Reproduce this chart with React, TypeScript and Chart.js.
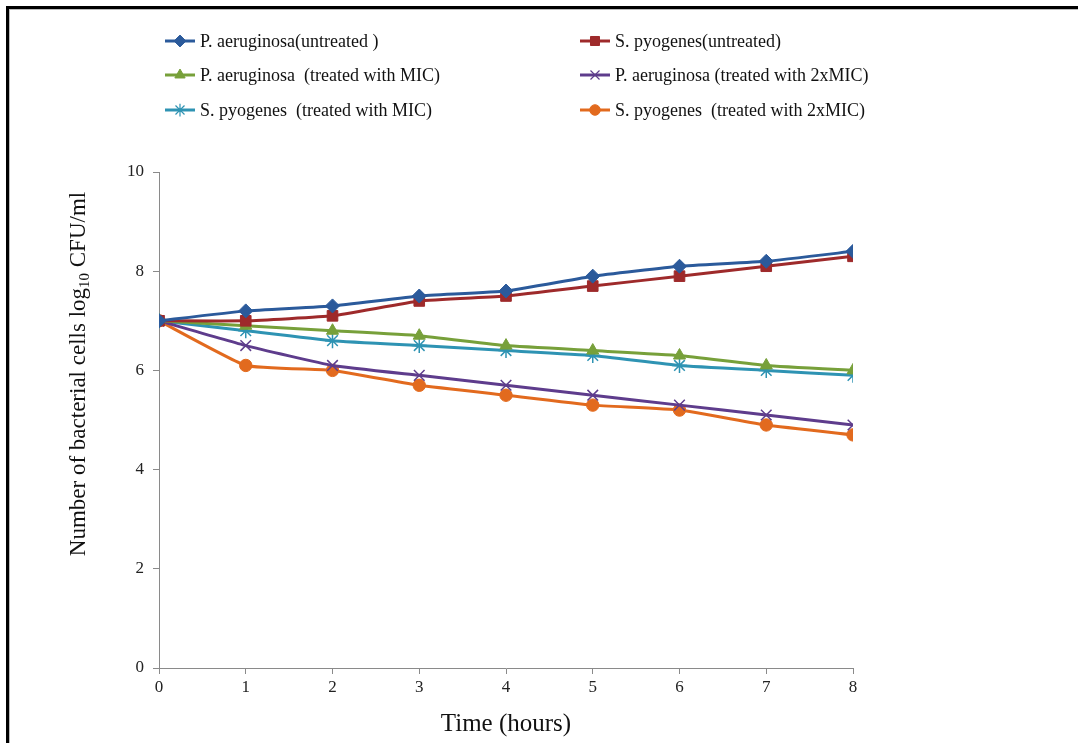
import React, { useEffect, useRef } from "react";
import { Chart, registerables } from "chart.js";
import { drawPoint } from "chart.js/helpers";

Chart.register(...registerables);

const hours = [0, 1, 2, 3, 4, 5, 6, 7, 8];
const paUntreated = [7.0, 7.2, 7.3, 7.5, 7.6, 7.9, 8.1, 8.2, 8.4];
const spUntreated = [7.0, 7.0, 7.1, 7.4, 7.5, 7.7, 7.9, 8.1, 8.3];
const paMIC = [7.0, 6.9, 6.8, 6.7, 6.5, 6.4, 6.3, 6.1, 6.0];
const pa2xMIC = [7.0, 6.5, 6.1, 5.9, 5.7, 5.5, 5.3, 5.1, 4.9];
const spMIC = [7.0, 6.8, 6.6, 6.5, 6.4, 6.3, 6.1, 6.0, 5.9];
const sp2xMIC = [7.0, 6.1, 6.0, 5.7, 5.5, 5.3, 5.2, 4.9, 4.7];

const seriesLabels = [
  "P. aeruginosa(untreated )",
  "S. pyogenes(untreated)",
  "P. aeruginosa  (treated with MIC)",
  "P. aeruginosa (treated with 2xMIC)",
  "S. pyogenes  (treated with MIC)",
  "S. pyogenes  (treated with 2xMIC)",
];
const seriesValues = [paUntreated, spUntreated, paMIC, pa2xMIC, spMIC, sp2xMIC];
const seriesColors = ["#2B5A9B", "#9E2A2B", "#77A03A", "#5E3C8C", "#2E93B3", "#E26A1E"];
const seriesStyles = ["rectRot", "rect", "triangle", "crossRot", "star", "circle"];
const seriesRadius = [7, 7.5, 7, 7.5, 7.5, 6.2];

const xTitle = "Time (hours)";
const yTitleParts = ["Number of bacterial cells log", "10", " CFU/ml"];

const FONT = "'Liberation Serif', 'Times New Roman', serif";

const overlayPlugin = {
  id: "overlay",
  afterDraw(chart: any) {
    const ctx = chart.ctx;
    ctx.save();
    // Legend
    const colX = [165, 580];
    const rowY = [41, 75, 110];
    chart.data.datasets.forEach((ds: any, i: number) => {
      const cx = colX[i % 2];
      const cy = rowY[Math.floor(i / 2)];
      ctx.strokeStyle = ds.borderColor;
      ctx.lineWidth = 3;
      ctx.beginPath();
      ctx.moveTo(cx, cy);
      ctx.lineTo(cx + 30, cy);
      ctx.stroke();
      ctx.fillStyle = ds.pointBackgroundColor;
      ctx.strokeStyle = ds.pointBorderColor;
      ctx.lineWidth = ds.pointStyle === "crossRot" || ds.pointStyle === "star" ? 1.2 : 1;
      drawPoint(ctx, { pointStyle: ds.pointStyle, radius: ds.pointRadius * 0.85, borderWidth: 1, rotation: 0 } as any, cx + 15, cy);
      ctx.fillStyle = "#111";
      ctx.font = `18px ${FONT}`;
      ctx.textBaseline = "middle";
      ctx.textAlign = "left";
      ctx.fillText(ds.label, cx + 35, cy + 1);
    });
    // Y title with subscript
    ctx.translate(79, 374);
    ctx.rotate(-Math.PI / 2);
    const big = `23px ${FONT}`;
    const small = `15px ${FONT}`;
    ctx.font = big;
    const w0 = ctx.measureText(yTitleParts[0]).width;
    const w2 = ctx.measureText(yTitleParts[2]).width;
    ctx.font = small;
    const w1 = ctx.measureText(yTitleParts[1]).width;
    let x = -(w0 + w1 + w2) / 2;
    ctx.fillStyle = "#111";
    ctx.textBaseline = "middle";
    ctx.textAlign = "left";
    ctx.font = big;
    ctx.fillText(yTitleParts[0], x, 0);
    x += w0;
    ctx.font = small;
    ctx.fillText(yTitleParts[1], x, 6);
    x += w1;
    ctx.font = big;
    ctx.fillText(yTitleParts[2], x, 0);
    ctx.restore();
  },
};

export default function App() {
  const ref = useRef<HTMLCanvasElement | null>(null);
  useEffect(() => {
    if (!ref.current) return;
    const datasets = seriesValues.map((vals, i) => ({
      label: seriesLabels[i],
      data: hours.map((h, j) => ({ x: h, y: vals[j] })),
      borderColor: seriesColors[i],
      backgroundColor: seriesColors[i],
      pointBackgroundColor: seriesColors[i],
      pointBorderColor: seriesColors[i],
      pointStyle: seriesStyles[i],
      pointRadius: seriesRadius[i],
      pointBorderWidth: seriesStyles[i] === "crossRot" || seriesStyles[i] === "star" ? 1.5 : 1,
      borderWidth: 3,
      tension: 0.12,
    }));
    const chart = new Chart(ref.current, {
      type: "line",
      data: { datasets },
      plugins: [overlayPlugin],
      options: {
        animation: false,
        responsive: false,
        events: [],
        layout: { padding: { left: 0, right: 225, top: 172, bottom: 0 } },
        plugins: { legend: { display: false }, tooltip: { enabled: false }, title: { display: false } },
        scales: {
          x: {
            type: "linear",
            min: 0,
            max: 8,
            afterFit: (s: any) => { s.height = 75; },
            ticks: { stepSize: 1, color: "#222", font: { family: FONT, size: 17 }, padding: 3, maxRotation: 0 },
            grid: { display: true, drawOnChartArea: false, drawTicks: true, tickLength: 6, color: "#8a8a8a" },
            border: { color: "#8a8a8a", width: 1 },
            title: { display: true, text: xTitle, color: "#111", font: { family: FONT, size: 25 }, padding: { top: 5 } },
          },
          y: {
            min: 0,
            max: 10,
            afterFit: (s: any) => { s.width = 159; },
            ticks: { stepSize: 2, color: "#222", font: { family: FONT, size: 17 }, padding: 9 },
            grid: { display: true, drawOnChartArea: false, drawTicks: true, tickLength: 6, color: "#8a8a8a" },
            border: { color: "#8a8a8a", width: 1 },
          },
        },
      },
    } as any);
    return () => chart.destroy();
  }, []);
  return (
    <div style={{ position: "fixed", left: 0, top: 0, width: 1078, height: 743, background: "#fff", overflow: "hidden" }}>
      <canvas ref={ref} width={1078} height={743} style={{ position: "absolute", left: 0, top: 0 }} />
      <div style={{ position: "absolute", left: 6, top: 6, width: 1072, height: 3, background: "#000" }} />
      <div style={{ position: "absolute", left: 9, top: 9, width: 1069, height: 1, background: "#bbb" }} />
      <div style={{ position: "absolute", left: 6, top: 6, width: 3, height: 737, background: "#000" }} />
      <div style={{ position: "absolute", left: 9, top: 9, width: 1, height: 734, background: "#bbb" }} />
    </div>
  );
}
